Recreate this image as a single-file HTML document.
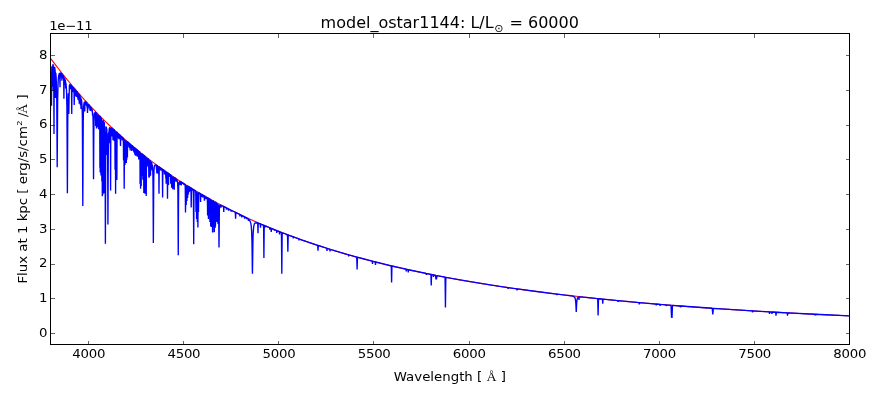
<!DOCTYPE html>
<html><head><meta charset="utf-8"><title>model_ostar1144</title>
<style>
html,body{margin:0;padding:0;background:#fff;}
svg{display:block;}
text{font-family:"DejaVu Sans","Liberation Sans",sans-serif;fill:#000;}
.t{font-size:13.33px;}
.ser{font-family:"Liberation Serif","DejaVu Serif",serif;}
</style></head><body>
<svg width="880" height="400" viewBox="0 0 880 400">
<rect width="880" height="400" fill="#fff"/>
<clipPath id="c"><rect x="50.5" y="33.5" width="799.0" height="311.0"/></clipPath>
<g clip-path="url(#c)" fill="none">
<path d="M50.50,58.21 L52.50,60.89 L54.50,63.55 L56.50,66.17 L58.50,68.76 L60.50,71.32 L62.50,73.85 L64.50,76.35 L66.50,78.82 L68.50,81.26 L70.50,83.67 L72.50,86.06 L74.50,88.41 L76.50,90.74 L78.50,93.04 L80.50,95.31 L82.50,97.56 L84.50,99.78 L86.50,101.97 L88.50,104.14 L90.50,106.28 L92.50,108.40 L94.50,110.49 L96.50,112.56 L98.50,114.61 L100.50,116.63 L102.50,118.63 L104.50,120.60 L106.50,122.56 L108.50,124.49 L110.50,126.40 L112.50,128.29 L114.50,130.15 L116.50,132 L118.50,133.82 L120.50,135.63 L122.50,137.41 L124.50,139.17 L126.50,140.92 L128.50,142.64 L130.50,144.35 L132.50,146.03 L134.50,147.70 L136.50,149.35 L138.50,150.98 L140.50,152.60 L142.50,154.19 L144.50,155.77 L146.50,157.33 L148.50,158.88 L150.50,160.40 L152.50,161.91 L154.50,163.41 L156.50,164.89 L158.50,166.35 L160.50,167.80 L162.50,169.23 L164.50,170.64 L166.50,172.04 L168.50,173.43 L170.50,174.80 L172.50,176.15 L174.50,177.50 L176.50,178.82 L178.50,180.14 L180.50,181.44 L182.50,182.72 L184.50,184 L186.50,185.25 L188.50,186.50 L190.50,187.73 L192.50,188.95 L194.50,190.16 L196.50,191.36 L198.50,192.54 L200.50,193.71 L202.50,194.87 L204.50,196.01 L206.50,197.15 L208.50,198.27 L210.50,199.38 L212.50,200.48 L214.50,201.57 L216.50,202.65 L218.50,203.72 L220.50,204.77 L222.50,205.82 L224.50,206.85 L226.50,207.88 L228.50,208.89 L230.50,209.89 L232.50,210.89 L234.50,211.87 L236.50,212.85 L238.50,213.81 L240.50,214.77 L242.50,215.71 L244.50,216.65 L246.50,217.57 L248.50,218.49 L250.50,219.40 L252.50,220.30 L254.50,221.19 L256.50,222.07 L258.50,222.95 L260.50,223.81 L262.50,224.67 L264.50,225.52 L266.50,226.36 L268.50,227.19 L270.50,228.01 L272.50,228.83 L274.50,229.64 L276.50,230.44 L278.50,231.23 L280.50,232.01 L282.50,232.79 L284.50,233.56 L286.50,234.32 L288.50,235.08 L290.50,235.83 L292.50,236.57 L294.50,237.30 L296.50,238.03 L298.50,238.75 L300.50,239.47 L302.50,240.17 L304.50,240.87 L306.50,241.57 L308.50,242.26 L310.50,242.94 L312.50,243.61 L314.50,244.28 L316.50,244.94 L318.50,245.60 L320.50,246.25 L322.50,246.89 L324.50,247.53 L326.50,248.16 L328.50,248.79 L330.50,249.41 L332.50,250.03 L334.50,250.64 L336.50,251.24 L338.50,251.84 L340.50,252.43 L342.50,253.02 L344.50,253.60 L346.50,254.18 L348.50,254.75 L350.50,255.32 L352.50,255.88 L354.50,256.44 L356.50,256.99 L358.50,257.54 L360.50,258.08 L362.50,258.62 L364.50,259.15 L366.50,259.68 L368.50,260.20 L370.50,260.72 L372.50,261.23 L374.50,261.74 L376.50,262.25 L378.50,262.75 L380.50,263.25 L382.50,263.74 L384.50,264.23 L386.50,264.71 L388.50,265.19 L390.50,265.66 L392.50,266.13 L394.50,266.60 L396.50,267.06 L398.50,267.52 L400.50,267.98 L402.50,268.43 L404.50,268.88 L406.50,269.32 L408.50,269.76 L410.50,270.19 L412.50,270.63 L414.50,271.05 L416.50,271.48 L418.50,271.90 L420.50,272.32 L422.50,272.73 L424.50,273.14 L426.50,273.55 L428.50,273.95 L430.50,274.35 L432.50,274.75 L434.50,275.14 L436.50,275.54 L438.50,275.92 L440.50,276.31 L442.50,276.69 L444.50,277.06 L446.50,277.44 L448.50,277.81 L450.50,278.18 L452.50,278.54 L454.50,278.91 L456.50,279.27 L458.50,279.62 L460.50,279.98 L462.50,280.33 L464.50,280.67 L466.50,281.02 L468.50,281.36 L470.50,281.70 L472.50,282.04 L474.50,282.37 L476.50,282.70 L478.50,283.03 L480.50,283.36 L482.50,283.68 L484.50,284 L486.50,284.32 L488.50,284.63 L490.50,284.95 L492.50,285.26 L494.50,285.56 L496.50,285.87 L498.50,286.17 L500.50,286.47 L502.50,286.77 L504.50,287.07 L506.50,287.36 L508.50,287.65 L510.50,287.94 L512.50,288.23 L514.50,288.51 L516.50,288.79 L518.50,289.07 L520.50,289.35 L522.50,289.63 L524.50,289.90 L526.50,290.17 L528.50,290.44 L530.50,290.71 L532.50,290.98 L534.50,291.24 L536.50,291.50 L538.50,291.76 L540.50,292.02 L542.50,292.27 L544.50,292.52 L546.50,292.78 L548.50,293.02 L550.50,293.27 L552.50,293.52 L554.50,293.76 L556.50,294 L558.50,294.24 L560.50,294.48 L562.50,294.72 L564.50,294.95 L566.50,295.19 L568.50,295.42 L570.50,295.65 L572.50,295.87 L574.50,296.10 L576.50,296.32 L578.50,296.55 L580.50,296.77 L582.50,296.99 L584.50,297.20 L586.50,297.42 L588.50,297.63 L590.50,297.85 L592.50,298.06 L594.50,298.27 L596.50,298.48 L598.50,298.68 L600.50,298.89 L602.50,299.09 L604.50,299.29 L606.50,299.49 L608.50,299.69 L610.50,299.89 L612.50,300.09 L614.50,300.28 L616.50,300.48 L618.50,300.67 L620.50,300.86 L622.50,301.05 L624.50,301.24 L626.50,301.42 L628.50,301.61 L630.50,301.79 L632.50,301.97 L634.50,302.15 L636.50,302.33 L638.50,302.51 L640.50,302.69 L642.50,302.87 L644.50,303.04 L646.50,303.21 L648.50,303.39 L650.50,303.56 L652.50,303.73 L654.50,303.90 L656.50,304.06 L658.50,304.23 L660.50,304.40 L662.50,304.56 L664.50,304.72 L666.50,304.88 L668.50,305.05 L670.50,305.20 L672.50,305.36 L674.50,305.52 L676.50,305.68 L678.50,305.83 L680.50,305.99 L682.50,306.14 L684.50,306.29 L686.50,306.44 L688.50,306.59 L690.50,306.74 L692.50,306.89 L694.50,307.03 L696.50,307.18 L698.50,307.32 L700.50,307.47 L702.50,307.61 L704.50,307.75 L706.50,307.89 L708.50,308.03 L710.50,308.17 L712.50,308.31 L714.50,308.45 L716.50,308.58 L718.50,308.72 L720.50,308.85 L722.50,308.99 L724.50,309.12 L726.50,309.25 L728.50,309.38 L730.50,309.51 L732.50,309.64 L734.50,309.77 L736.50,309.89 L738.50,310.02 L740.50,310.15 L742.50,310.27 L744.50,310.39 L746.50,310.52 L748.50,310.64 L750.50,310.76 L752.50,310.88 L754.50,311 L756.50,311.12 L758.50,311.24 L760.50,311.36 L762.50,311.47 L764.50,311.59 L766.50,311.70 L768.50,311.82 L770.50,311.93 L772.50,312.04 L774.50,312.16 L776.50,312.27 L778.50,312.38 L780.50,312.49 L782.50,312.60 L784.50,312.71 L786.50,312.81 L788.50,312.92 L790.50,313.03 L792.50,313.13 L794.50,313.24 L796.50,313.34 L798.50,313.45 L800.50,313.55 L802.50,313.65 L804.50,313.75 L806.50,313.85 L808.50,313.96 L810.50,314.05 L812.50,314.15 L814.50,314.25 L816.50,314.35 L818.50,314.45 L820.50,314.54 L822.50,314.64 L824.50,314.74 L826.50,314.83 L828.50,314.93 L830.50,315.02 L832.50,315.11 L834.50,315.20 L836.50,315.30 L838.50,315.39 L840.50,315.48 L842.50,315.57 L844.50,315.66 L846.50,315.75 L848.50,315.84" stroke="#f00" stroke-width="1.1"/>
<path d="M49.50,84.92 L49.76,102.32 L50.10,150.24 L50.52,96.41 L50.86,81.73 L51,100.65 L51.20,72.76 L51.32,77.82 L51.50,105.78 L51.68,74.67 L51.80,67.03 L51.88,66.51 L51.94,68.79 L52.06,86.90 L52.20,67.15 L52.36,78.10 L52.48,66.58 L52.56,65.53 L52.72,85.43 L52.86,65.92 L52.92,64.78 L53.02,64.77 L53.06,65.09 L53.24,90.96 L53.38,66.48 L53.42,65.60 L53.46,66.88 L53.58,78.31 L53.70,69.93 L54,134.07 L54.22,79.60 L54.28,77.01 L54.38,86.43 L54.52,67.56 L54.60,66.88 L54.76,67.33 L54.82,68.11 L54.96,80.14 L55.14,69.60 L55.30,97.91 L55.44,72.13 L55.62,92.55 L55.76,74.03 L55.80,73.05 L55.88,73.59 L56.16,77.64 L56.38,82.89 L56.74,99.87 L57.20,167.32 L57.66,100.85 L58,85.32 L58.20,80.73 L58.46,77.24 L58.80,74.91 L58.96,76.45 L59.10,73.98 L59.26,73.50 L59.44,78.99 L59.58,73.56 L59.64,73.08 L59.72,73.27 L60,87.12 L60.20,74.88 L60.32,73.08 L60.40,73.09 L60.44,73.35 L60.58,77.15 L60.74,73.32 L60.80,73.27 L61.04,73.45 L61.12,73.73 L61.26,77.58 L61.40,74.08 L61.46,73.84 L61.70,74.12 L61.88,80.78 L62.06,74.56 L62.14,74.55 L62.50,75.05 L62.66,78.21 L62.82,75.48 L63,75.62 L63.08,75.96 L63.22,78.77 L63.36,76.27 L63.42,76.21 L63.56,76.48 L63.70,79.58 L63.90,98.72 L64.18,77.85 L64.26,77.60 L64.36,78 L64.50,81.35 L64.64,78.51 L64.68,78.44 L64.72,78.50 L64.88,78.99 L65.04,84.86 L65.20,79.97 L65.24,79.91 L65.28,80.01 L65.48,80.83 L65.66,88.58 L65.78,82.97 L65.82,82.56 L65.88,82.79 L66.26,86.28 L66.54,91.24 L66.92,107.70 L67.40,193.13 L67.72,126.45 L67.96,103.71 L68.18,95.37 L68.28,93.68 L68.32,93.49 L68.36,93.67 L68.72,112.54 L68.82,113.97 L69.06,98.44 L69.40,85.44 L69.54,85.01 L69.64,84.93 L69.68,85.04 L69.84,88.42 L69.98,84.97 L70.06,84.81 L70.30,84.93 L70.48,89.17 L70.64,85.12 L70.68,85.06 L70.78,85.12 L70.84,85.33 L70.98,87.22 L71.12,85.44 L71.18,85.41 L71.38,85.60 L71.46,86.06 L71.74,114 L71.98,88.21 L72.04,87.58 L72.16,91.71 L72.34,86.51 L72.66,86.81 L72.72,87.09 L72.88,92.34 L73,88.38 L73.12,91.81 L73.26,87.69 L73.32,87.51 L73.60,87.86 L73.78,92.02 L73.90,88.68 L73.94,88.42 L73.98,88.67 L74.24,105.04 L74.44,91.47 L74.58,88.97 L74.68,89.10 L74.72,89.53 L74.86,95.10 L75.02,89.53 L75.06,89.46 L75.16,89.57 L75.22,89.92 L75.36,93.18 L75.54,90.25 L75.70,95.96 L75.84,90.62 L75.90,90.42 L76.14,90.74 L76.32,96.93 L76.48,91.41 L76.64,96.07 L76.80,91.60 L76.86,91.54 L77,91.72 L77.06,92.09 L77.20,96.41 L77.32,92.63 L77.36,92.24 L77.40,92.19 L77.46,92.28 L77.64,97.80 L77.80,93.83 L78,99.83 L78.20,94.09 L78.34,93.35 L78.64,93.74 L78.70,94.23 L78.84,100.36 L79.04,94.30 L79.24,103.67 L79.42,94.86 L79.66,95.15 L79.72,95.63 L79.86,103.35 L80,96.33 L80.06,95.83 L80.14,96.20 L80.40,105.14 L80.58,98.49 L80.70,97.25 L80.82,99.52 L81,108.88 L81.20,100.02 L81.26,99.15 L81.30,99.07 L81.34,99.16 L81.72,101.63 L82,105.35 L82.22,111.30 L82.36,118.79 L82.80,206.07 L83.22,121.23 L83.52,108.58 L83.76,105 L84.08,102.91 L84.40,102.08 L84.52,102.60 L84.74,111.55 L84.96,102.76 L85.04,101.82 L85.16,101.69 L85.36,101.77 L85.42,102.05 L85.56,104.88 L85.72,102 L86.38,102.49 L86.56,105.96 L86.70,102.89 L86.76,102.79 L86.98,103.05 L87.16,108.27 L87.30,104.86 L87.50,112.91 L87.78,104.10 L87.94,109.24 L88.12,104.23 L88.30,107.65 L88.46,104.55 L89.02,105.14 L89.18,107.31 L89.32,105.53 L89.38,105.48 L89.64,105.77 L89.78,106.48 L89.90,110.43 L90.02,106.83 L90.12,106.33 L90.30,107.11 L90.50,111 L90.70,107.62 L90.76,107.27 L90.84,107.25 L90.98,107.63 L91.12,110.16 L91.30,107.92 L91.86,108.99 L92.02,111.54 L92.16,109.94 L92.34,110.42 L92.54,115.54 L92.66,112.82 L92.68,112.70 L92.72,112.85 L93.02,117.62 L93.20,126.35 L93.54,179.22 L93.84,133.30 L94.02,120.44 L94.20,116.41 L94.46,113.98 L94.82,112.78 L95.06,112.51 L95.38,112.44 L95.50,113.57 L95.64,125.99 L95.78,113.27 L95.88,112.62 L96.16,112.84 L96.24,113.37 L96.50,128.45 L96.68,116.24 L96.80,113.47 L96.86,113.37 L96.98,113.48 L97.04,113.99 L97.18,121.63 L97.36,114.64 L97.60,127.31 L97.84,115.01 L97.90,114.73 L97.94,115.58 L98.06,121.58 L98.18,115.36 L98.24,114.72 L98.32,115 L98.60,129.27 L98.80,117.88 L98.92,122.21 L99.06,116.01 L99.10,115.61 L99.16,115.92 L99.32,129.58 L99.46,116.83 L99.52,115.98 L99.68,116.10 L99.72,116.37 L99.92,167.79 L100.06,123.22 L100.20,172.53 L100.34,120.26 L100.40,117.03 L100.44,116.89 L100.52,116.95 L100.60,117.25 L100.80,163.07 L100.90,138.45 L101,175.55 L101.16,120.07 L101.24,118.08 L101.30,122.55 L101.44,168.22 L101.54,127.70 L101.64,118.72 L101.82,181.18 L102.02,120.52 L102.30,196.31 L102.58,121.24 L102.70,129.57 L102.90,194.42 L103.16,122.58 L103.28,120.28 L103.48,120.62 L103.54,122.22 L103.68,172.74 L103.72,174.93 L103.78,165.40 L103.86,193.17 L104,127.90 L104.04,122.92 L104.12,122.02 L104.30,122.91 L104.36,126.91 L104.50,184.53 L104.66,126.85 L104.68,126.07 L104.72,126.68 L104.76,130.66 L104.88,169.17 L105,141.23 L105.02,139.66 L105.06,141.78 L105.40,243.63 L105.76,139.56 L105.92,132.17 L106.06,154.83 L106.20,128.93 L106.26,127.13 L106.40,126.82 L106.50,127.69 L106.54,130.69 L106.66,152.25 L106.82,128.65 L106.92,133.74 L107.02,155 L107.18,132.94 L107.34,135.76 L107.50,143.07 L107.66,161.51 L107.94,224.54 L108.28,155.37 L108.56,136.52 L108.72,132.85 L108.86,131.58 L109,143.12 L109.14,130.10 L109.20,128.70 L109.28,128.54 L109.46,142.90 L109.62,127.93 L109.68,127.53 L109.84,127.40 L109.92,128.14 L110.06,139.66 L110.18,129 L110.24,127.52 L110.30,128 L110.42,139.83 L110.60,190.60 L110.80,136 L110.88,128.74 L110.94,127.71 L111.02,127.57 L111.12,128.43 L111.24,134.26 L111.36,128.73 L111.40,128.03 L111.46,128.37 L111.60,136.45 L111.78,128.16 L111.84,128.10 L112,128.26 L112.06,128.84 L112.20,135.39 L112.34,128.86 L112.42,128.56 L112.64,128.75 L112.72,129.02 L113,140.26 L113.28,129.49 L113.36,129.35 L113.52,129.50 L113.58,130.01 L113.72,139.95 L113.86,130.70 L113.92,129.88 L114.04,129.93 L114.10,130.20 L114.26,141.05 L114.42,130.68 L114.50,130.33 L114.82,130.62 L114.88,130.85 L115.08,169.65 L115.20,135.61 L115.30,131.77 L115.42,143.53 L115.60,193.84 L115.78,143.84 L115.90,132.80 L116.02,141.25 L116.20,180.09 L116.40,138.55 L116.54,132.30 L116.62,132.25 L116.66,132.50 L116.72,136.18 L116.86,180.08 L117.06,132.75 L117.14,132.69 L117.22,132.91 L117.36,134.89 L117.50,133.12 L117.58,133.08 L117.90,133.45 L118.08,138.31 L118.22,133.87 L118.28,133.74 L118.34,134.07 L118.48,137.44 L118.60,134.37 L118.66,134.07 L118.76,134.21 L118.94,139.23 L119.10,134.55 L119.16,134.50 L119.56,134.85 L119.66,135.08 L119.82,138.80 L119.96,135.41 L120.04,135.28 L120.20,135.54 L120.32,137.58 L120.50,146.06 L120.70,137.49 L120.74,137.23 L120.84,138.36 L120.98,136.22 L121.06,136.19 L121.38,136.54 L121.54,138.43 L121.68,136.83 L121.76,136.81 L122.06,137.10 L122.24,140.35 L122.42,137.43 L122.56,137.77 L122.68,139.49 L122.84,137.82 L123.26,138.13 L123.34,138.29 L123.54,160.25 L123.66,141.34 L123.70,139.14 L123.74,138.73 L123.78,138.86 L123.96,147.82 L124.20,188.78 L124.46,145.92 L124.54,140.88 L124.64,139.54 L124.74,140.30 L124.80,142.92 L125,165.04 L125.18,144.83 L125.30,140.33 L125.48,152.47 L125.62,141.02 L125.68,140.30 L125.76,140.71 L125.92,155.60 L126.04,142.77 L126.08,141.08 L126.12,140.76 L126.16,141.20 L126.32,162.97 L126.46,143.66 L126.70,160.03 L126.90,143.86 L127.04,141.48 L127.22,141.66 L127.28,142.91 L127.42,157.46 L127.54,143.63 L127.64,141.95 L128.28,142.54 L128.44,144.90 L128.58,142.94 L128.64,142.81 L128.76,142.97 L128.92,146.64 L129.04,143.80 L129.08,143.35 L129.14,143.39 L129.40,148.03 L129.62,144.04 L129.72,143.75 L129.96,143.99 L130.14,150.54 L130.34,144.27 L130.56,144.45 L130.62,144.73 L130.76,148.29 L130.92,144.89 L131.20,147.53 L131.40,145.49 L131.48,145.26 L131.60,145.41 L131.78,151.07 L131.96,145.65 L132.28,145.89 L132.34,146.08 L132.50,149.84 L132.66,146.28 L133.06,146.54 L133.22,146.75 L133.50,151.03 L133.74,147.55 L133.90,152.40 L134.06,147.47 L134.16,147.65 L134.30,149.85 L134.44,147.80 L134.50,147.74 L134.66,147.88 L134.86,154.81 L135,148.76 L135.06,148.24 L135.26,148.39 L135.40,149.43 L135.60,155.63 L135.88,149.02 L135.98,149.91 L136.10,155.55 L136.26,149.35 L136.32,149.24 L136.46,149.38 L136.52,149.88 L136.66,155.38 L136.80,149.94 L136.86,149.70 L137.08,149.99 L137.24,156.72 L137.42,150.26 L137.50,150.20 L137.84,150.55 L138,152.83 L138.14,150.86 L138.20,150.78 L138.40,150.96 L138.56,152.42 L138.74,159.38 L139.02,151.66 L139.10,151.57 L139.16,152.15 L139.28,156.27 L139.44,151.92 L139.50,151.84 L139.88,152.17 L139.98,156.20 L140.10,183.98 L140.30,153.01 L140.42,159.71 L140.60,188.78 L140.88,153.85 L141,157.50 L141.20,186.03 L141.38,159.84 L141.50,153.80 L141.60,153.58 L141.66,154.50 L141.80,168.97 L141.98,154.93 L142.14,176.12 L142.28,155.11 L142.34,154.17 L142.48,154.24 L142.54,154.71 L142.70,173.72 L142.80,169.63 L142.88,179.76 L143.04,155.43 L143.10,154.86 L143.16,156.43 L143.30,172.97 L143.42,156.82 L143.46,155.36 L143.50,155.08 L143.56,155.11 L143.66,158.56 L143.80,192.97 L143.96,156.57 L144.06,160.12 L144.26,183.67 L144.48,157.82 L144.58,156.02 L144.64,155.96 L144.74,156.06 L144.80,156.95 L144.96,193.77 L145.12,157.93 L145.30,180.21 L145.44,160.69 L145.58,187.18 L145.70,159.98 L145.76,157.07 L145.80,156.89 L145.88,156.97 L146,158.75 L146.06,163.51 L146.24,196.12 L146.44,163.80 L146.58,157.66 L146.62,157.60 L146.66,157.82 L146.70,158.82 L146.82,167.32 L147,157.98 L147.20,165.84 L147.38,158.22 L147.48,159.17 L147.60,164.56 L147.74,158.78 L147.82,158.49 L148.06,158.82 L148.22,165.65 L148.36,159.54 L148.42,159.03 L148.48,159.28 L148.62,166.93 L148.72,165.49 L148.84,177.13 L149.02,159.77 L149.20,177.81 L149.38,160.20 L149.56,176.59 L149.74,160.38 L149.84,161.46 L149.98,173.59 L150.12,161.09 L150.20,160.57 L150.32,160.75 L150.36,161.23 L150.52,175.67 L150.68,161.47 L150.86,169.62 L151.04,162.51 L151.16,170.54 L151.32,162.30 L151.38,162.02 L151.62,162.46 L151.72,163.41 L151.84,167.85 L151.96,163.92 L152,163.62 L152.04,163.89 L152.18,169.76 L152.32,165.45 L152.34,165.31 L152.38,165.41 L152.50,166.41 L152.74,170 L152.90,175.11 L153.06,189.46 L153.34,243.12 L153.76,177.87 L154.04,169.47 L154.26,167.18 L154.58,165.73 L154.86,165.21 L155.20,164.97 L155.68,164.95 L156.26,165.16 L156.46,169.37 L156.64,165.57 L156.80,173.36 L156.98,165.62 L157.06,165.59 L157.12,165.95 L157.26,170.21 L157.38,166.30 L157.44,165.84 L157.52,166 L157.68,171.14 L157.88,166.14 L158.08,172.66 L158.20,168.09 L158.32,174.04 L158.46,166.94 L158.52,166.54 L158.68,166.78 L158.80,170.36 L159,193.85 L159.18,172.30 L159.30,167.34 L159.38,167.12 L159.66,167.33 L159.82,168.84 L159.98,167.56 L160.42,167.86 L160.60,170.12 L160.74,168.14 L160.80,168.09 L160.98,168.23 L161.16,170.69 L161.34,168.51 L161.64,168.73 L161.78,169.78 L161.94,168.93 L162.26,169.20 L162.40,173.03 L162.60,197.55 L162.80,173.31 L162.86,170.49 L162.96,169.65 L163.66,170.14 L163.82,172.04 L163.96,170.44 L164.04,170.37 L164.30,170.59 L164.48,174.46 L164.66,170.84 L164.84,170.94 L164.90,171.17 L165.04,173.97 L165.20,171.25 L165.64,171.53 L165.84,178.51 L166,171.97 L166.18,183.62 L166.34,172.39 L166.42,173.09 L166.54,182.02 L166.70,172.61 L166.74,172.30 L166.84,172.33 L166.92,172.90 L167.06,179.99 L167.22,173.30 L167.50,198.78 L167.70,176.43 L167.84,173.09 L167.92,173.08 L167.96,173.20 L168,173.74 L168.14,183.20 L168.34,173.73 L168.50,184.95 L168.70,173.65 L168.96,173.78 L169.04,173.94 L169.18,175.42 L169.32,174.13 L169.40,174.09 L169.52,174.25 L169.68,177.07 L169.84,174.47 L170.06,174.54 L170.18,174.70 L170.34,176.68 L170.46,175.01 L170.52,174.87 L170.58,175.01 L170.76,183.63 L170.92,175.34 L170.96,175.18 L171.08,175.27 L171.14,175.73 L171.28,182.16 L171.46,175.72 L171.64,187.63 L171.76,178.96 L171.86,184.18 L172.04,177.30 L172.26,187.50 L172.44,178.07 L172.50,176.72 L172.60,176.38 L172.80,189.27 L172.90,180.08 L173.02,183.93 L173.20,176.89 L173.32,178.80 L173.50,187.07 L173.70,178.57 L173.86,183.89 L173.98,178.34 L174.02,177.53 L174.06,177.45 L174.08,177.63 L174.24,189.85 L174.44,177.63 L174.94,178 L175.10,180.93 L175.30,178.22 L175.58,178.44 L175.64,178.64 L175.78,181.51 L175.94,178.89 L176.10,181.70 L176.28,179.09 L176.72,179.65 L176.88,181.43 L176.98,180.31 L177.02,180.15 L177.08,180.22 L177.42,181.33 L177.66,183.08 L177.88,189.38 L178.26,255.36 L178.52,201.06 L178.66,187.64 L178.78,184.55 L179,182.73 L179.36,181.80 L179.62,181.60 L179.94,181.57 L180.06,181.60 L180.12,181.81 L180.26,185.02 L180.38,182.15 L180.48,181.72 L180.66,181.80 L180.72,181.94 L180.86,183.76 L181,182.08 L181.10,182.01 L181.18,182.17 L181.34,185.38 L181.44,182.86 L181.54,182.26 L181.88,182.50 L182.04,183.87 L182.22,182.65 L182.64,182.93 L182.80,183.85 L182.94,183.12 L183.44,183.41 L183.60,184.54 L183.78,183.61 L184.28,183.93 L184.44,185.07 L184.60,184.14 L185.02,184.37 L185.12,184.61 L185.28,189.72 L185.50,212.53 L185.72,189.99 L185.86,185.26 L186,187.68 L186.20,205.03 L186.40,187.92 L186.52,185.43 L186.64,185.90 L186.70,187.51 L186.90,201.03 L187.08,188.71 L187.20,185.90 L187.26,185.82 L187.32,186.04 L187.40,187.48 L187.60,198.02 L187.78,188.46 L187.90,186.29 L187.98,186.21 L188.10,186.37 L188.18,187.04 L188.40,194.52 L188.58,188.17 L188.70,186.74 L188.88,186.79 L188.98,187.27 L189.20,192.02 L189.48,187.23 L189.62,187.21 L190.12,187.59 L190.28,191.14 L190.44,187.89 L190.60,189.43 L190.74,188.03 L190.80,187.95 L190.88,188.10 L191,190.68 L191.20,207.52 L191.48,188.73 L191.56,188.43 L191.84,188.63 L192,190.42 L192.18,188.79 L192.42,188.93 L192.48,189.06 L192.62,190.65 L192.78,189.19 L193.12,189.36 L193.22,189.56 L193.34,191.48 L193.42,196.92 L193.70,244.26 L193.98,197.24 L194.08,191.29 L194.14,190.35 L194.24,190.05 L195.60,190.84 L195.72,191.32 L196,212.01 L196.20,194.03 L196.32,191.94 L196.60,219.01 L196.80,195.28 L196.88,192.15 L196.94,191.76 L197,192.01 L197.12,197.71 L197.30,222.01 L197.50,196.05 L197.62,192.91 L197.90,227.51 L198.08,199.29 L198.20,192.98 L198.32,196.31 L198.50,212.01 L198.70,195.30 L198.84,192.81 L200.18,193.54 L200.32,193.78 L200.60,201.91 L200.80,195 L200.92,194.02 L201.92,194.58 L202.10,197.03 L202.24,194.86 L202.30,194.77 L202.52,194.92 L202.70,197.40 L202.88,195.13 L203.42,195.47 L203.58,197.55 L203.74,195.66 L204.10,195.85 L204.22,196.79 L204.40,200.61 L204.58,196.99 L204.70,196.19 L205.30,196.53 L205.46,199.11 L205.64,196.73 L205.80,197.06 L206,199.02 L206.26,197.10 L206.64,197.24 L206.74,197.38 L206.88,199.10 L207.04,197.54 L207.38,197.70 L207.60,215.51 L207.74,198.72 L207.78,198.39 L207.82,199.82 L207.94,214.27 L208.08,199.33 L208.12,198.30 L208.16,198.12 L208.24,198.17 L208.34,201.33 L208.46,219.10 L208.62,199.11 L208.80,213.14 L208.92,202.30 L209.04,212.76 L209.22,199.28 L209.38,213.78 L209.52,199.77 L209.58,198.95 L209.70,198.99 L209.80,202.12 L209.92,222.07 L210.02,209.59 L210.14,221.17 L210.26,201.06 L210.32,199.42 L210.36,199.34 L210.46,199.40 L210.56,202.31 L210.68,226.25 L210.82,205.75 L210.94,225.20 L211.12,200.28 L211.30,226.94 L211.46,200.73 L211.50,200.07 L211.56,200.01 L211.60,200.17 L211.66,202.36 L211.80,226.14 L211.90,205.41 L212,200.38 L212.20,220.79 L212.32,203.32 L212.36,201.45 L212.40,202.86 L212.54,232.38 L212.66,205.32 L212.82,226.65 L213.02,200.89 L213.10,200.88 L213.14,201.18 L213.18,202.66 L213.32,224.80 L213.48,201.65 L213.52,201.16 L213.58,201.21 L213.64,202.77 L213.78,227.06 L213.92,205.49 L214.06,232.16 L214.18,206.06 L214.34,231.90 L214.52,201.91 L214.62,204.27 L214.74,226.01 L214.88,203.95 L214.94,202.01 L214.98,201.92 L215.02,202.03 L215.06,202.77 L215.22,227.73 L215.34,205.94 L215.50,225.76 L215.68,202.56 L215.72,202.35 L215.78,202.52 L215.84,204.57 L215.96,221.92 L216.14,202.86 L216.18,202.63 L216.30,202.73 L216.36,203.74 L216.50,218.62 L216.62,205.02 L216.66,203.35 L216.70,203.04 L216.74,203.40 L216.90,221.63 L217.04,205.64 L217.18,214.27 L217.30,204.44 L217.40,203.48 L217.50,205.02 L217.62,216.81 L217.76,207.37 L217.88,223.72 L218,207.11 L218.04,204.94 L218.12,204.51 L218.36,205.39 L218.50,206.46 L218.66,210.74 L219,247.51 L219.36,210.13 L219.54,206.63 L219.72,205.78 L220,205.29 L220.40,205.14 L220.64,205.16 L220.74,205.26 L221,207.71 L221.18,205.80 L221.30,205.39 L223.44,206.41 L223.56,207.33 L223.76,212.03 L223.94,207.52 L224,206.89 L224.10,206.71 L226.20,207.78 L226.50,209.54 L226.70,208.23 L226.84,208.09 L228.22,208.81 L228.50,210.53 L228.70,209.24 L228.82,209.09 L230.90,210.14 L231.20,211.53 L231.40,210.55 L231.52,210.45 L235.18,212.26 L235.36,213.20 L235.60,218.80 L235.84,213.43 L235.92,212.79 L236.02,212.68 L239.68,214.46 L239.88,216.35 L240.06,214.65 L241.56,215.38 L241.78,217.45 L241.90,215.73 L242,215.59 L244.42,216.80 L244.62,218.59 L244.74,217.15 L244.82,217.01 L246.34,217.83 L246.52,219.25 L246.70,218.04 L248.22,219.01 L248.42,220.92 L248.60,219.34 L249.48,220.21 L250.30,221.65 L250.88,223.69 L251.30,226.66 L251.62,230.96 L252,242.35 L252.34,269.68 L252.46,273.72 L252.92,241.68 L253.10,235.40 L253.38,230.09 L253.76,226.40 L254.28,224.19 L254.62,223.50 L255.02,223.06 L255.52,222.81 L256.16,222.73 L256.26,222.85 L256.38,223.59 L256.56,222.77 L257.60,222.98 L257.72,223.21 L258,233.33 L258.20,224.54 L258.32,223.25 L259.40,223.57 L260.22,223.95 L260.50,227.67 L260.68,224.78 L260.80,224.14 L263.26,225.09 L263.44,225.31 L263.56,226.92 L263.64,231.08 L263.90,258.06 L264.18,229.88 L264.26,226.69 L264.38,225.64 L264.48,225.60 L264.54,225.76 L264.68,227.93 L264.88,225.76 L269.62,227.70 L269.82,229.67 L269.98,227.88 L270.92,228.23 L271.06,228.88 L271.24,232.01 L271.44,229.03 L271.50,228.61 L271.60,228.50 L274.18,229.54 L274.38,230.53 L274.56,229.69 L276.50,230.46 L276.72,232.86 L276.90,230.63 L279.16,231.51 L279.30,231.95 L279.50,234.51 L279.78,231.80 L281.22,232.37 L281.38,233.69 L281.48,238 L281.80,273.76 L282.12,238.23 L282.22,234.01 L282.30,233.04 L282.40,232.81 L282.58,233.76 L282.72,232.98 L282.80,232.92 L286.16,234.21 L286.36,235.10 L286.52,234.36 L287.22,234.61 L287.36,234.82 L287.54,237.32 L287.86,251.73 L288.18,236.98 L288.28,235.46 L288.36,235.14 L288.46,235.09 L288.74,235.25 L288.88,236.22 L289.08,235.31 L293.16,236.83 L293.36,238.35 L293.56,236.97 L298.74,238.85 L298.84,239.07 L298.96,240.46 L299.08,239.20 L299.18,239 L317.50,245.28 L317.64,245.52 L317.72,246.07 L318,250.75 L318.28,246.25 L318.38,245.70 L318.52,245.61 L326.66,248.23 L326.80,248.62 L327,251 L327.20,248.75 L327.26,248.50 L327.36,248.44 L329.70,249.19 L329.82,249.65 L330,251.50 L330.20,249.62 L330.26,249.42 L330.36,249.37 L348.40,254.73 L348.56,255.05 L348.74,256.49 L348.94,255.16 L349.08,254.93 L356.50,257 L356.68,257.44 L356.78,258.74 L357.10,269.50 L357.42,258.91 L357.52,257.67 L357.68,257.33 L372.14,261.15 L372.30,261.56 L372.50,264 L372.68,261.83 L372.80,261.34 L375.14,261.91 L375.30,262.35 L375.50,265 L375.70,262.45 L375.76,262.17 L375.86,262.09 L391.06,265.81 L391.22,266.25 L391.32,268.10 L391.60,282.50 L391.88,268.23 L391.98,266.43 L392.14,266.06 L405.90,269.19 L406.06,269.59 L406.24,271.49 L406.52,269.38 L407.90,269.63 L408.06,270.12 L408.24,272.48 L408.46,270.06 L408.52,269.84 L408.62,269.79 L425.90,273.43 L426.06,273.71 L426.24,274.99 L426.44,273.79 L426.56,273.57 L430.72,274.41 L430.86,274.65 L430.96,275.73 L431.24,285.47 L431.52,276.27 L431.60,275.06 L431.72,274.64 L433.22,274.93 L433.50,277 L433.78,275.04 L435.30,275.37 L435.56,276.06 L435.96,278.78 L436.04,278.93 L436.24,278.91 L436.44,279.26 L436.56,278.87 L436.88,276.14 L436.98,275.81 L437.12,275.68 L444.82,277.14 L444.94,277.34 L445.02,277.98 L445.12,280.79 L445.44,307.44 L445.78,280.91 L445.90,277.91 L445.98,277.47 L446.10,277.37 L461.36,280.13 L476.26,282.66 L491.68,285.13 L507.62,287.53 L507.80,287.74 L508,289 L508.20,287.80 L508.34,287.63 L516.62,288.81 L516.80,289.06 L517,290.50 L517.20,289.12 L517.26,288.96 L517.38,288.92 L536.54,291.51 L556.62,294.03 L556.80,294.18 L557,295.01 L557.20,294.22 L557.36,294.12 L569.16,295.56 L572.78,296.18 L573.82,296.57 L574.50,297.10 L574.98,297.88 L575.34,299.06 L575.60,300.60 L575.78,302.49 L576.24,311.99 L576.36,310.82 L576.68,303.18 L576.90,300.73 L577.14,299.33 L577.42,298.38 L577.76,297.74 L578.22,297.31 L578.64,297.12 L578.76,297.24 L579,299.89 L579.22,297.25 L579.30,297.01 L579.52,296.96 L580.96,296.97 L583.38,297.15 L597.42,298.58 L597.56,298.70 L597.64,299.04 L597.76,300.90 L598.10,315.50 L598.46,300.47 L598.58,299.01 L598.66,298.78 L598.80,298.72 L602.34,299.14 L602.50,300.04 L602.74,303.74 L603.04,299.69 L603.14,299.26 L603.28,299.18 L617.64,300.59 L617.80,300.79 L618,302 L618.20,300.83 L618.36,300.66 L638.88,302.55 L639,302.64 L639.06,302.88 L639.24,304.49 L639.46,302.81 L639.62,302.62 L655.90,304.02 L656.06,304.27 L656.24,305.49 L656.44,304.30 L656.60,304.08 L659.70,304.35 L659.82,304.63 L660,305.80 L660.20,304.57 L660.34,304.39 L665.92,304.84 L666.06,305.04 L666.24,305.99 L666.44,305.07 L666.56,304.90 L670.74,305.23 L670.96,305.56 L671.10,306.91 L671.52,317.83 L671.74,315.38 L671.94,317.60 L671.98,317.83 L672.02,317.68 L672.40,307 L672.54,305.68 L672.64,305.45 L672.80,305.39 L680.16,305.96 L680.30,306.15 L680.50,307.30 L680.70,306.18 L680.88,306.02 L711.92,308.28 L712.14,308.47 L712.30,309.13 L712.80,314.50 L713.30,309.20 L713.48,308.53 L713.76,308.40 L752.12,310.86 L752.30,311.06 L752.50,312.30 L752.70,311.09 L752.86,310.91 L769.12,311.85 L769.24,311.93 L769.30,312.15 L769.50,314 L769.70,312.17 L769.82,311.91 L771.72,312.04 L772,314 L772.18,312.42 L772.30,312.05 L775.42,312.21 L775.60,312.32 L775.70,312.70 L776,315.75 L776.30,312.73 L776.40,312.36 L776.58,312.27 L787,312.85 L787.12,312.96 L787.22,313.36 L787.50,315.75 L787.80,313.27 L787.90,312.97 L788.08,312.90 L814.62,314.26 L814.80,314.43 L815,315.50 L815.20,314.45 L815.38,314.30 L849.50,315.88" stroke="#00f" stroke-width="1.35" stroke-linejoin="miter" stroke-miterlimit="2"/>
</g>
<path d="M88.5,344.5v-4M88.5,33.5v4M183.5,344.5v-4M183.5,33.5v4M278.5,344.5v-4M278.5,33.5v4M373.5,344.5v-4M373.5,33.5v4M469.5,344.5v-4M469.5,33.5v4M564.5,344.5v-4M564.5,33.5v4M659.5,344.5v-4M659.5,33.5v4M754.5,344.5v-4M754.5,33.5v4M849.5,344.5v-4M849.5,33.5v4M50.5,333.5h4M849.5,333.5h-4M50.5,298.5h4M849.5,298.5h-4M50.5,264.5h4M849.5,264.5h-4M50.5,229.5h4M849.5,229.5h-4M50.5,194.5h4M849.5,194.5h-4M50.5,159.5h4M849.5,159.5h-4M50.5,125.5h4M849.5,125.5h-4M50.5,90.5h4M849.5,90.5h-4M50.5,55.5h4M849.5,55.5h-4" stroke="#000" stroke-width="0.6" fill="none" shape-rendering="crispEdges"/>
<rect x="50.5" y="33.5" width="799.0" height="311.0" fill="none" stroke="#000" stroke-width="1" shape-rendering="crispEdges"/>
<text class="t" transform="translate(88.75,357.90) scale(1,0.93)" text-anchor="middle"><tspan letter-spacing="-0.25">4000</tspan></text><text class="t" transform="translate(183.88,357.90) scale(1,0.93)" text-anchor="middle"><tspan letter-spacing="-0.25">4500</tspan></text><text class="t" transform="translate(279.00,357.90) scale(1,0.93)" text-anchor="middle"><tspan letter-spacing="-0.25">5000</tspan></text><text class="t" transform="translate(374.12,357.90) scale(1,0.93)" text-anchor="middle"><tspan letter-spacing="-0.25">5500</tspan></text><text class="t" transform="translate(469.25,357.90) scale(1,0.93)" text-anchor="middle"><tspan letter-spacing="-0.25">6000</tspan></text><text class="t" transform="translate(564.38,357.90) scale(1,0.93)" text-anchor="middle"><tspan letter-spacing="-0.25">6500</tspan></text><text class="t" transform="translate(659.50,357.90) scale(1,0.93)" text-anchor="middle"><tspan letter-spacing="-0.25">7000</tspan></text><text class="t" transform="translate(754.62,357.90) scale(1,0.93)" text-anchor="middle"><tspan letter-spacing="-0.25">7500</tspan></text><text class="t" transform="translate(849.75,357.90) scale(1,0.93)" text-anchor="middle"><tspan letter-spacing="-0.25">8000</tspan></text>
<text class="t" transform="translate(47.50,336.80) scale(1,0.93)" text-anchor="end">0</text><text class="t" transform="translate(47.50,302.05) scale(1,0.93)" text-anchor="end">1</text><text class="t" transform="translate(47.50,267.30) scale(1,0.93)" text-anchor="end">2</text><text class="t" transform="translate(47.50,232.55) scale(1,0.93)" text-anchor="end">3</text><text class="t" transform="translate(47.50,197.80) scale(1,0.93)" text-anchor="end">4</text><text class="t" transform="translate(47.50,163.05) scale(1,0.93)" text-anchor="end">5</text><text class="t" transform="translate(47.50,128.30) scale(1,0.93)" text-anchor="end">6</text><text class="t" transform="translate(47.50,93.55) scale(1,0.93)" text-anchor="end">7</text><text class="t" transform="translate(47.50,58.80) scale(1,0.93)" text-anchor="end">8</text>
<text class="t" transform="translate(49.20,30.00) scale(1,0.93)"><tspan letter-spacing="-0.3">1e−11</tspan></text>
<text x="320.6" y="28" font-size="16px">model_ostar1144: L/L<tspan font-size="11.2px" dy="4.2" dx="0.6">⊙</tspan><tspan dy="-4.2" dx="0.8"> = 60000</tspan></text>
<text class="t" transform="translate(393.80,380.80) scale(1,0.93)">Wavelength [ <tspan class="ser" font-size="14px">Å</tspan> ]</text>
<text class="t" transform="translate(26.90,283.60) rotate(-90) scale(1,0.93)">Flux at 1 kpc [ erg/s/cm<tspan font-size="8.3px" dy="-5.8" dx="0.3">2</tspan><tspan dy="5.8" dx="-0.6"> /</tspan><tspan class="ser" font-size="14px" dx="-1.3">Å</tspan> ]</text>
</svg></body></html>
